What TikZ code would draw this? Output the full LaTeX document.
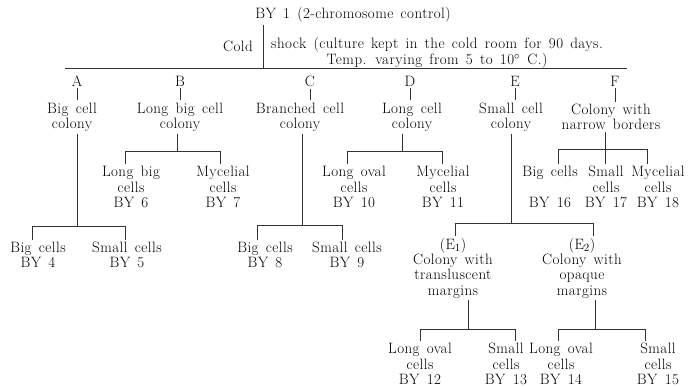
\documentclass[tikz,border=0pt]{standalone}
\usepackage{amsmath}
\usepackage{fontspec}
\setmainfont{Latin Modern Roman}[LetterSpace=3,WordSpace=1.45]
\usetikzlibrary{positioning}
\begin{document}
\begin{tikzpicture}[x={(1pt,0)},y={(0,-1pt)},
every node/.style={align=center,inner sep=2pt,font=\fontsize{15}{15.3}\selectfont},
link/.style={draw=black!80,line width=0.55pt}]
\useasboundingbox (0,0) rectangle (689,387);
% root
\node (by1) at (353,15) {BY 1 (2-chromosome control)};
\node (cold) at (238,46) {Cold};
\node (shock) at (437,53) [font=\fontsize{15}{16}\selectfont] {shock (culture kept in the cold room for 90 days.\\Temp. varying from 5 to 10$^\circ$ C.)};
\coordinate (jtop) at (263,68);
\coordinate (hl) at (65,68);
\coordinate (hr) at (627,68);
\draw[link] (by1.south -| jtop) -- (jtop);
\draw[link] (hl) -- (hr);
% letters
\node (A) at (77,81) {A};
\node (B) at (180,81) {B};
\node (C) at (310,81) {C};
\node (D) at (410,81) {D};
\node (E) at (515,81) {E};
\node (F) at (615,81) {F};
% colonies
\node (Acol) at (72,117) {Big cell\\colony};
\node (Bcol) at (180,117) {Long big cell\\colony};
\node (Ccol) at (300,117) {Branched cell\\colony};
\node (Dcol) at (412,117) {Long cell\\colony};
\node (Ecol) at (511,117) {Small cell\\colony};
\node (Fcol) at (611,117) {Colony with\\narrow borders};
\foreach \n in {A,B,C,D,E,F}
  \draw[link] (\n.south) -- (\n.south |- \n col.north);
% A
\node (by4) at (38,255) {Big cells\\BY 4};
\node (by5) at (127,255) {Small cells\\BY 5};
\coordinate (jA) at (77,226);
\coordinate (jAl) at (32,226);
\coordinate (jAr) at (125,226);
\draw[link] (Acol.south -| jA) -- (jA);
\draw[link] (jAl) -- (jAr);
\draw[link] (jAl) -- (jAl |- by4.north);
\draw[link] (jAr) -- (jAr |- by5.north);
% B
\node (by6) at (131,187) {Long big\\cells\\BY 6};
\node (by7) at (223,187) {Mycelial\\cells\\BY 7};
\coordinate (jB) at (177,151);
\coordinate (jBl) at (125,151);
\coordinate (jBr) at (220,151);
\draw[link] (Bcol.south -| jB) -- (jB);
\draw[link] (jBl) -- (jBr);
\draw[link] (jBl) -- (jBl |- by6.north);
\draw[link] (jBr) -- (jBr |- by7.north);
% C
\node (by8) at (265,255) {Big cells\\BY 8};
\node (by9) at (347,255) {Small cells\\BY 9};
\coordinate (jC) at (302,225);
\coordinate (jCl) at (257,225);
\coordinate (jCr) at (342,225);
\draw[link] (Ccol.south -| jC) -- (jC);
\draw[link] (jCl) -- (jCr);
\draw[link] (jCl) -- (jCl |- by8.north);
\draw[link] (jCr) -- (jCr |- by9.north);
% D
\node (by10) at (354,187) {Long oval\\cells\\BY 10};
\node (by11) at (443,187) {Mycelial\\cells\\BY 11};
\coordinate (jD) at (402,151);
\coordinate (jDl) at (347,151);
\coordinate (jDr) at (442,151);
\draw[link] (Dcol.south -| jD) -- (jD);
\draw[link] (jDl) -- (jDr);
\draw[link] (jDl) -- (jDl |- by10.north);
\draw[link] (jDr) -- (jDr |- by11.north);
% E
\node (E1) at (453,268) {(E$_1$)\\Colony with\\transluscent\\margins};
\node (E2) at (582,268) {(E$_2$)\\Colony with\\opaque\\margins};
\coordinate (jE) at (511,223);
\coordinate (jEl) at (455,223);
\coordinate (jEr) at (593,223);
\draw[link] (Ecol.south -| jE) -- (jE);
\draw[link] (jEl) -- (jEr);
\draw[link] (jEl) -- (jEl |- E1.north);
\draw[link] (jEr) -- (jEr |- E2.north);
% E1
\node (by12) at (420,364) {Long oval\\cells\\BY 12};
\node (by13) at (506,364) {Small\\cells\\BY 13};
\coordinate (jE1) at (468,329);
\coordinate (jE1l) at (420,329);
\coordinate (jE1r) at (515,329);
\draw[link] (E1.south -| jE1) -- (jE1);
\draw[link] (jE1l) -- (jE1r);
\draw[link] (jE1l) -- (jE1l |- by12.north);
\draw[link] (jE1r) -- (jE1r |- by13.north);
% E2
\node (by14) at (561,364) {Long oval\\cells\\BY 14};
\node (by15) at (658,364) {Small\\cells\\BY 15};
\coordinate (jE2) at (595,329);
\coordinate (jE2l) at (558,329);
\coordinate (jE2r) at (645,329);
\draw[link] (E2.south -| jE2) -- (jE2);
\draw[link] (jE2l) -- (jE2r);
\draw[link] (jE2l) -- (jE2l |- by14.north);
\draw[link] (jE2r) -- (jE2r |- by15.north);
% F
\node (by16) at (550,187) {Big cells\\\strut\\BY 16};
\node (by17) at (606,187) {Small\\cells\\BY 17};
\node (by18) at (658,187) {Mycelial\\cells\\BY 18};
\coordinate (jF) at (605,149);
\coordinate (jFl) at (558,149);
\coordinate (jFr) at (647,149);
\draw[link] (Fcol.south -| jF) -- (jF);
\draw[link] (jFl) -- (jFr);
\draw[link] (jFl) -- (jFl |- by16.north);
\draw[link] (jF) -- (jF |- by17.north);
\draw[link] (jFr) -- (jFr |- by18.north);
\end{tikzpicture}
\end{document}
